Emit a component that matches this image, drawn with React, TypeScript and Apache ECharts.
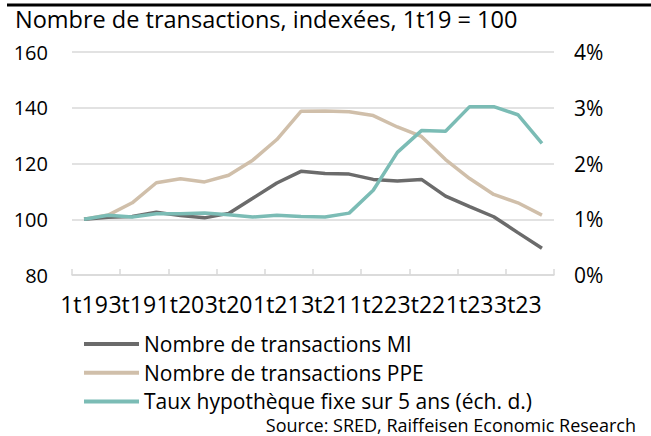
import React, { useEffect, useRef } from "react";
import * as echarts from "echarts";

const categories = [
  "1t19", "2t19", "3t19", "4t19",
  "1t20", "2t20", "3t20", "4t20",
  "1t21", "2t21", "3t21", "4t21",
  "1t22", "2t22", "3t22", "4t22",
  "1t23", "2t23", "3t23", "4t23",
];

const transactionsMI = [
  100, 100.7, 101, 102.5, 101.3, 100.5, 102.1, 107.5, 113, 117.2,
  116.4, 116.2, 114.3, 113.7, 114.3, 108.3, 104.5, 100.9, 95.2, 89.6,
];

const transactionsPPE = [
  100, 101.5, 105.9, 113.1, 114.5, 113.4, 115.8, 121.2, 128.6, 138.7,
  138.8, 138.6, 137.2, 133.1, 129.7, 121.4, 114.6, 108.9, 105.9, 101.5,
];

const tauxHypo = [
  1.0, 1.07, 1.04, 1.1, 1.1, 1.11, 1.08, 1.04, 1.07, 1.05,
  1.04, 1.11, 1.52, 2.2, 2.59, 2.58, 3.02, 3.02, 2.875, 2.36,
];

const seriesNames = [
  "Nombre de transactions MI",
  "Nombre de transactions PPE",
  "Taux hypothèque fixe sur 5 ans (éch. d.)",
];

const FONT = "Open Sans";

export default function App() {
  const ref = useRef<HTMLDivElement>(null);

  useEffect(() => {
    if (!ref.current) return;
    const chart = echarts.init(ref.current, undefined, { renderer: "svg" });
    const colors = ["#6b6b6b", "#d0bfaa", "#7bbcb5"];
    chart.setOption({
      animation: false,
      color: colors,
      textStyle: { fontFamily: FONT },
      title: {
        text: "Nombre de transactions, indexées, 1t19 = 100",
        left: 15,
        top: 7,
        padding: 0,
        textStyle: { fontFamily: FONT, fontSize: 23.5, fontWeight: "normal", color: "#000" },
      },
      grid: { left: 72, right: 97, top: 52, bottom: 161, containLabel: false },
      legend: {
        orient: "vertical",
        left: 84,
        top: 332,
        padding: 0,
        itemWidth: 55,
        itemHeight: 4,
        itemGap: 4.7,
        icon: "rect",
        textStyle: { fontFamily: FONT, fontSize: 21, color: "#000", lineHeight: 24 },
        data: seriesNames,
      },
      xAxis: {
        type: "category",
        data: categories,
        boundaryGap: true,
        axisLine: { lineStyle: { color: "#d9d9d9", width: 1.5 } },
        axisTick: { show: true, inside: true, length: 6, lineStyle: { color: "#d9d9d9", width: 1.5 } },
        axisLabel: { interval: 1, fontFamily: FONT, fontSize: 23, color: "#000", margin: 17 },
      },
      yAxis: [
        {
          type: "value",
          min: 80,
          max: 160,
          interval: 20,
          axisLine: { show: false },
          axisTick: { show: false },
          splitLine: { lineStyle: { color: "#d9d9d9", width: 1.5 } },
          axisLabel: { fontFamily: FONT, fontSize: 20, color: "#000", margin: 24 },
        },
        {
          type: "value",
          min: 0,
          max: 4,
          interval: 1,
          axisLine: { show: false },
          axisTick: { show: false },
          splitLine: { show: false },
          axisLabel: { fontFamily: FONT, fontSize: 21, color: "#000", margin: 20, formatter: "{value}%" },
        },
      ],
      series: [
        {
          name: seriesNames[0],
          type: "line",
          data: transactionsMI,
          yAxisIndex: 0,
          symbol: "none",
          lineStyle: { width: 3.5, color: colors[0] },
          z: 3,
        },
        {
          name: seriesNames[1],
          type: "line",
          data: transactionsPPE,
          yAxisIndex: 0,
          symbol: "none",
          lineStyle: { width: 3.5, color: colors[1] },
          z: 2,
        },
        {
          name: seriesNames[2],
          type: "line",
          data: tauxHypo,
          yAxisIndex: 1,
          symbol: "none",
          lineStyle: { width: 3.5, color: colors[2] },
          z: 4,
        },
      ],
      graphic: [
        {
          type: "line",
          shape: { x1: 7, y1: 5, x2: 651, y2: 5 },
          style: { stroke: "#000", lineWidth: 3 },
        },
        {
          type: "text",
          right: 15,
          top: 416,
          style: {
            text: "Source: SRED, Raiffeisen Economic Research",
            fontFamily: FONT,
            fontSize: 18,
            fill: "#000",
          },
        },
      ],
    });
    return () => chart.dispose();
  }, []);

  return (
    <div
      ref={ref}
      style={{ position: "fixed", left: 0, top: 0, width: 651, height: 436, background: "#fff" }}
    />
  );
}
